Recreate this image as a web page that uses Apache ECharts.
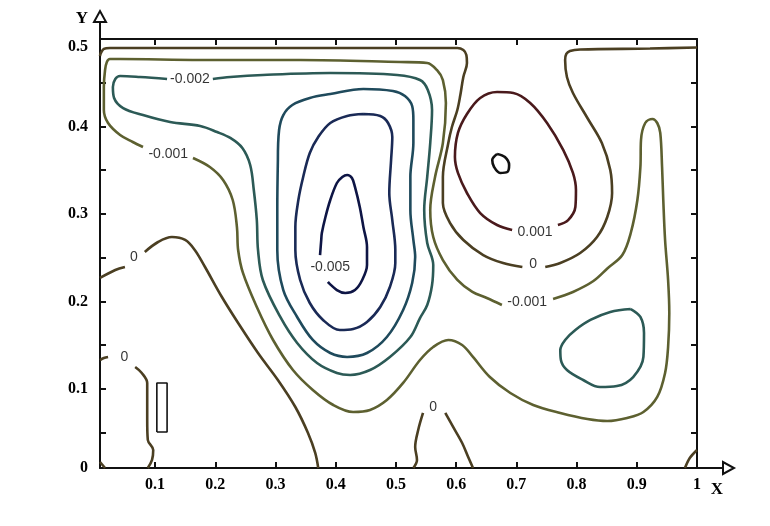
<!DOCTYPE html>
<html>
<head>
<meta charset="utf-8">
<script src="https://cdn.jsdelivr.net/npm/echarts@6/dist/echarts.min.js"></script>
<style>html,body{margin:0;padding:0;background:#fff}#c{width:770px;height:526px}</style>
</head>
<body>
<div id="c"></div>
<script>
// ---- tick labels ----
const xTickLabels = [0.1, 0.2, 0.3, 0.4, 0.5, 0.6, 0.7, 0.8, 0.9, 1];
const yTickLabels = [0, 0.1, 0.2, 0.3, 0.4, 0.5];
const xMinorTicks = [0.1, 0.2, 0.3, 0.4, 0.5, 0.6, 0.7, 0.8, 0.9];
const yMinorTicks = [0.05, 0.1, 0.15, 0.2, 0.25, 0.3, 0.35, 0.4, 0.45];

// ---- contour level 0 ----
const zeroLines = [
  [[0.0086,0.4806],[0.010,0.484],[0.015,0.4886],[0.025,0.4897],[0.175,0.4897],[0.341,0.4897],[0.540,0.4897],[0.602,0.4897],[0.612,0.4874],[0.617,0.4817],[0.618,0.4726],[0.612,0.4566],[0.607,0.436],[0.602,0.4189],[0.593,0.3994],[0.587,0.3811],[0.578,0.3423],[0.578,0.3126],[0.590,0.2897],[0.612,0.2703],[0.645,0.2531],[0.678,0.244],[0.710,0.2394]],
  [[0.748,0.2394],[0.773,0.244],[0.806,0.2554],[0.834,0.2737],[0.851,0.2966],[0.859,0.324],[0.856,0.3503],[0.842,0.3811],[0.818,0.4097],[0.794,0.4383],[0.784,0.4566],[0.781,0.476],[0.783,0.4829],[0.789,0.4863],[0.806,0.488],[0.922,0.4891],[1.0,0.4903]],
  [[0.0086,0.2269],[0.034,0.236],[0.050,0.2394]],
  [[0.083,0.2566],[0.105,0.268],[0.128,0.2737],[0.150,0.2703],[0.166,0.2589],[0.183,0.2394],[0.211,0.2051],[0.238,0.1754],[0.271,0.1411],[0.304,0.1103],[0.333,0.0794],[0.354,0.0497],[0.366,0.0269],[0.371,0.0097]],
  [[0.0086,0.1331],[0.015,0.1354],[0.022,0.1366]],
  [[0.067,0.1251],[0.078,0.1183],[0.087,0.1069],[0.087,0.0646],[0.088,0.0417],[0.097,0.0303],[0.095,0.0189],[0.088,0.0097]],
  [[0.0086,0.0166],[0.017,0.0097]],
  [[0.545,0.0726],[0.537,0.0531],[0.532,0.0337],[0.535,0.0189],[0.529,0.0097]],
  [[0.582,0.0726],[0.595,0.0566],[0.610,0.0383],[0.620,0.0223],[0.628,0.0097]],
  [[0.980,0.0097],[0.988,0.0211],[1.0,0.0303]]
];

// ---- contour level -0.001 ----
const neg001Lines = [
  [[0.163,0.364],[0.191,0.3537],[0.213,0.3389],[0.229,0.316],[0.236,0.2851],[0.238,0.2589],[0.246,0.2326],[0.269,0.1937],[0.296,0.156],[0.329,0.1217],[0.362,0.0989],[0.396,0.0817],[0.429,0.0737],[0.457,0.076],[0.485,0.0874],[0.512,0.1069],[0.540,0.1331],[0.562,0.148],[0.587,0.156],[0.610,0.1503],[0.628,0.1366],[0.656,0.1137],[0.690,0.0954],[0.728,0.0817],[0.773,0.0726],[0.818,0.0657],[0.851,0.0634],[0.884,0.0669],[0.911,0.0737],[0.934,0.0909],[0.947,0.1183],[0.952,0.148],[0.954,0.1869],[0.952,0.2246],[0.947,0.2703],[0.944,0.316],[0.942,0.3537],[0.939,0.3926],[0.934,0.404],[0.926,0.4086],[0.914,0.404],[0.907,0.3846],[0.906,0.3537],[0.901,0.316],[0.890,0.2783],[0.876,0.2531],[0.852,0.2383],[0.828,0.2234],[0.794,0.2109],[0.761,0.2029]],
  [[0.676,0.196],[0.651,0.204],[0.627,0.2109],[0.602,0.2246],[0.578,0.2474],[0.562,0.2737],[0.557,0.3046],[0.565,0.3423],[0.578,0.3811],[0.583,0.4269],[0.578,0.4531],[0.568,0.4646],[0.552,0.4726],[0.507,0.4737],[0.341,0.476],[0.175,0.476],[0.042,0.4771],[0.025,0.4771],[0.020,0.4737],[0.017,0.4646],[0.015,0.4451],[0.015,0.4189],[0.022,0.404],[0.042,0.3903],[0.063,0.3823],[0.080,0.3766]]
];

// ---- contour level -0.002 ----
const neg002Lines = [
  [[0.196,0.4543],[0.225,0.4566],[0.279,0.4589],[0.391,0.4611],[0.502,0.4589],[0.540,0.4531],[0.553,0.4417],[0.560,0.4189],[0.557,0.3811],[0.552,0.3423],[0.547,0.3046],[0.552,0.2669],[0.562,0.2417],[0.560,0.2189],[0.552,0.196],[0.540,0.1811],[0.524,0.1594],[0.490,0.1366],[0.457,0.1217],[0.424,0.116],[0.402,0.1183],[0.369,0.1297],[0.336,0.1526],[0.308,0.1823],[0.279,0.2246],[0.271,0.2589],[0.269,0.2931],[0.264,0.3274],[0.258,0.356],[0.245,0.3754],[0.225,0.3869],[0.203,0.3937],[0.175,0.4006],[0.125,0.4051],[0.080,0.4131],[0.047,0.4211],[0.032,0.4326],[0.030,0.4451],[0.034,0.4543],[0.042,0.4577],[0.075,0.4566],[0.120,0.4543]],
  [[0.890,0.1914],[0.906,0.1823],[0.912,0.164],[0.911,0.1366],[0.894,0.1137],[0.867,0.1034],[0.839,0.1023],[0.811,0.1103],[0.784,0.1217],[0.774,0.1331],[0.773,0.1446],[0.781,0.156],[0.798,0.1674],[0.823,0.1789],[0.856,0.188],[0.890,0.1914]]
];

// ---- contour level -0.003 ----
const neg003Lines = [
  [[0.304,0.3617],[0.306,0.396],[0.313,0.4131],[0.328,0.4246],[0.357,0.4326],[0.391,0.4371],[0.446,0.4429],[0.495,0.4406],[0.515,0.4349],[0.527,0.4234],[0.529,0.4074],[0.529,0.3811],[0.524,0.3423],[0.524,0.3046],[0.529,0.2703],[0.532,0.2509],[0.527,0.2211],[0.512,0.1903],[0.485,0.1594],[0.452,0.1411],[0.419,0.1366],[0.391,0.1411],[0.362,0.156],[0.336,0.1823],[0.313,0.2131],[0.303,0.2589],[0.303,0.3046],[0.304,0.3617]]
];

// ---- contour level -0.004 ----
const neg004Lines = [
  [[0.446,0.4143],[0.474,0.412],[0.487,0.404],[0.494,0.388],[0.492,0.3617],[0.489,0.324],[0.494,0.2931],[0.499,0.2589],[0.499,0.244],[0.490,0.2166],[0.474,0.1937],[0.452,0.1766],[0.429,0.1686],[0.407,0.1674],[0.379,0.1789],[0.357,0.1983],[0.341,0.2246],[0.333,0.2589],[0.333,0.2851],[0.338,0.316],[0.346,0.3423],[0.357,0.3697],[0.371,0.388],[0.391,0.404],[0.419,0.412],[0.446,0.4143]]
];

// ---- contour level -0.005 ----
const neg005Lines = [
  [[0.374,0.2531],[0.376,0.2703],[0.377,0.2783],[0.383,0.2966],[0.391,0.316],[0.402,0.3354],[0.411,0.3423],[0.419,0.3446],[0.427,0.3411],[0.432,0.3309],[0.440,0.308],[0.446,0.2851],[0.452,0.2623],[0.452,0.2417],[0.444,0.2246],[0.432,0.2131],[0.416,0.2097],[0.402,0.2131],[0.387,0.2223]]
];

// ---- contour level 0.001 ----
const pos001Lines = [
  [[0.693,0.2817],[0.668,0.2874],[0.640,0.3011],[0.618,0.324],[0.603,0.3469],[0.598,0.3651],[0.603,0.3926],[0.618,0.4143],[0.640,0.4326],[0.668,0.4394],[0.695,0.4383],[0.723,0.4269],[0.751,0.404],[0.778,0.3731],[0.794,0.3469],[0.799,0.3274],[0.798,0.308],[0.786,0.2931],[0.769,0.2874]]
];

// ---- contour level 0.002 ----
const pos002Lines = [
  [[0.668,0.3686],[0.681,0.3651],[0.688,0.356],[0.685,0.348],[0.673,0.3469],[0.663,0.3537],[0.660,0.3617],[0.668,0.3686]]
];

// ---- obstacle rectangle ----
const obstacle = [[0.103,0.0509],[0.120,0.0509],[0.120,0.1069],[0.103,0.1069],[0.103,0.0509]];

// ---- contour labels ----
const labelText = ['-0.002', '-0.001', '0', '0', '-0.005', '0.001', '0', '-0.001', '0'];
const labelPos = [[0.158,0.4543],[0.122,0.3686],[0.065,0.2509],[0.049,0.1366],[0.391,0.2394],[0.731,0.2794],[0.728,0.2429],[0.718,0.1994],[0.562,0.0794]];

const levels = [
  { lines: zeroLines,   color: '#4b3f22' },
  { lines: neg001Lines, color: '#5d6030' },
  { lines: neg002Lines, color: '#2c5a56' },
  { lines: neg003Lines, color: '#1f4a5c' },
  { lines: neg004Lines, color: '#1a2a56' },
  { lines: neg005Lines, color: '#0e1545' },
  { lines: pos001Lines, color: '#4a1a1c' },
  { lines: pos002Lines, color: '#111111' }
];

const series = [];
levels.forEach(lv => {
  lv.lines.forEach(pts => {
    series.push({
      type: 'line', data: pts, showSymbol: false, smooth: 0.35, silent: true,
      lineStyle: { color: lv.color, width: 2.6 }, z: 3
    });
  });
});
series.push({
  type: 'line', data: obstacle, showSymbol: false, smooth: false, silent: true,
  lineStyle: { color: '#111', width: 1.6 }, z: 3
});
series.push({
  type: 'scatter', symbolSize: 0, silent: true, z: 5,
  data: labelPos.map((p, i) => ({ value: p, name: labelText[i] })),
  label: { show: true, position: 'inside', formatter: '{b}', color: '#000',
           fontFamily: 'Liberation Sans', fontSize: 14 }
});

const axisFont = { color: '#000', fontFamily: 'Liberation Serif', fontWeight: 'bold', fontSize: 16 };
const axLine = { show: true, lineStyle: { color: '#111', width: 2 } };

const chart = echarts.init(document.getElementById('c'), null, { renderer: 'canvas' });
chart.setOption({
  animation: false,
  backgroundColor: '#fff',
  grid: { left: 100, right: 73, top: 39, bottom: 58 },
  xAxis: [
    { type: 'value', min: 0.0086, max: 1, position: 'bottom', axisLine: axLine,
      splitLine: { show: false },
      axisTick: { show: true, inside: true, length: 6, customValues: xMinorTicks, lineStyle: { color: '#111', width: 2 } },
      axisLabel: Object.assign({ show: true, margin: 9, customValues: xTickLabels,
        formatter: v => (v >= 0.999 ? '1' : v.toFixed(1)) }, axisFont) },
    { type: 'value', min: 0.0086, max: 1, position: 'top', axisLine: axLine,
      splitLine: { show: false },
      axisTick: { show: true, inside: true, length: 6, customValues: xMinorTicks, lineStyle: { color: '#111', width: 2 } },
      axisLabel: { show: false } }
  ],
  yAxis: [
    { type: 'value', min: 0.0097, max: 0.5, position: 'left', axisLine: axLine,
      splitLine: { show: false },
      axisTick: { show: true, inside: true, length: 6, customValues: yMinorTicks, lineStyle: { color: '#111', width: 2 } },
      axisLabel: Object.assign({ show: true, margin: 12, customValues: [0.0097, 0.1, 0.2, 0.3, 0.4, 0.491],
        formatter: v => (v < 0.05 ? String(yTickLabels[0]) : v > 0.48 ? String(yTickLabels[5]) : v.toFixed(1)) }, axisFont) },
    { type: 'value', min: 0.0097, max: 0.5, position: 'right', axisLine: axLine,
      splitLine: { show: false },
      axisTick: { show: true, inside: true, length: 6, customValues: yMinorTicks, lineStyle: { color: '#111', width: 2 } },
      axisLabel: { show: false } }
  ],
  series: series,
  graphic: [
    { type: 'line', shape: { x1: 100, y1: 40, x2: 100, y2: 22 }, style: { stroke: '#111', lineWidth: 2 } },
    { type: 'polygon', shape: { points: [[94, 22], [106, 22], [100, 11]] }, style: { fill: '#fff', stroke: '#111', lineWidth: 2 } },
    { type: 'text', x: 82, y: 19, style: { text: 'Y', fill: '#000', font: 'bold 17px "Liberation Serif"', align: 'center', verticalAlign: 'middle' } },
    { type: 'line', shape: { x1: 696, y1: 468, x2: 723, y2: 468 }, style: { stroke: '#111', lineWidth: 2 } },
    { type: 'polygon', shape: { points: [[723, 462], [723, 474], [734, 468]] }, style: { fill: '#fff', stroke: '#111', lineWidth: 2 } },
    { type: 'text', x: 717, y: 490, style: { text: 'X', fill: '#000', font: 'bold 17px "Liberation Serif"', align: 'center', verticalAlign: 'middle' } }
  ]
});
</script>
</body>
</html>
